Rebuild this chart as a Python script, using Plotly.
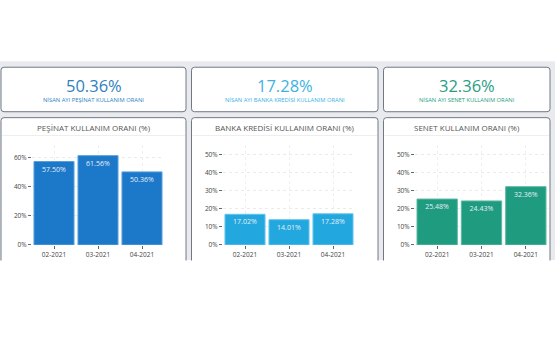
import plotly.graph_objects as go

W, H = 555, 355

months = ["02-2021", "03-2021", "04-2021"]
pesinat = [57.50, 61.56, 50.36]
banka = [17.02, 14.01, 17.28]
senet = [25.48, 24.43, 32.36]

kpi_values = ["50.36%", "17.28%", "32.36%"]
kpi_labels = ["NİSAN AYI PEŞİNAT KULLANIM ORANI",
              "NİSAN AYI BANKA KREDİSİ KULLANIM ORANI",
              "NİSAN AYI SENET KULLANIM ORANI"]
chart_titles = ["PEŞİNAT KULLANIM ORANI (%)",
                "BANKA KREDİSİ KULLANIM ORANI (%)",
                "SENET KULLANIM ORANI (%)"]
colors = ["#1c78c9", "#22a8df", "#1f9b80"]
line_colors = ["#5aa0dc", "#66c4ea", "#5cb9a3"]
kpi_colors = ["#2f7fc1", "#3cb2e2", "#2a9d84"]

FONT = "Open Sans"


def px(x):
    return x / W


def py(y):
    return 1 - y / H


def rounded(x0, y0, x1, y1, r=3):
    rx, ry = r / W, r / H
    X0, X1 = px(x0), px(x1)
    Y0, Y1 = py(y0), py(y1)
    return (f"M {X0+rx},{Y0} L {X1-rx},{Y0} Q {X1},{Y0} {X1},{Y0-ry} "
            f"L {X1},{Y1+ry} Q {X1},{Y1} {X1-rx},{Y1} "
            f"L {X0+rx},{Y1} Q {X0},{Y1} {X0},{Y1+ry} "
            f"L {X0},{Y0-ry} Q {X0},{Y0} {X0+rx},{Y0} Z")


fig = go.Figure()

series = [pesinat, banka, senet]
plot_x = [(32, 164), (223, 355), (415, 548)]
plot_y = (146.5, 247.7)
yranges = [[0, 69], [0, 55.6], [0, 55.6]]
ytickvals = [[0, 20, 40, 60], [0, 10, 20, 30, 40, 50], [0, 10, 20, 30, 40, 50]]

for i in range(3):
    ax = "" if i == 0 else str(i + 1)
    fig.add_trace(go.Bar(
        x=months, y=series[i],
        marker=dict(color=colors[i], line=dict(color=line_colors[i], width=1)),
        text=[f"{v:.2f}%" for v in series[i]],
        textposition="inside", insidetextanchor="end",
        textfont=dict(family=FONT, size=7, color="#e6eef8"),
        xaxis="x" + ax, yaxis="y" + ax, showlegend=False,
        hoverinfo="skip",
    ))
    x0, x1 = plot_x[i]
    fig.layout["xaxis" + ax] = dict(
        domain=[px(x0), px(x1)], anchor="y" + ax,
        showgrid=True, gridcolor="#efefef", griddash="dot", gridwidth=1,
        ticks="outside", ticklen=3, tickcolor="#666",
        tickfont=dict(family=FONT, size=6.5, color="#444"),
        showline=False, zeroline=False, fixedrange=True,
    )
    fig.layout["yaxis" + ax] = dict(
        domain=[py(plot_y[1]), py(plot_y[0])], anchor="x" + ax,
        range=yranges[i], tickvals=ytickvals[i],
        ticktext=[f"{v}%" for v in ytickvals[i]],
        showgrid=True, gridcolor="#ebebeb", griddash="dot", gridwidth=1,
        ticks="outside", ticklen=3, tickcolor="#666",
        tickfont=dict(family=FONT, size=6.5, color="#444"),
        showline=False, zeroline=False, fixedrange=True,
    )

shapes = []
shapes.append(dict(type="rect", xref="paper", yref="paper",
                   x0=0, x1=1, y0=py(263), y1=py(62),
                   fillcolor="#e9eaee", line=dict(width=0), layer="below"))
cards_x = [(1, 186), (191.5, 378), (383.5, 550)]
for (cx0, cx1) in cards_x:
    shapes.append(dict(type="path", xref="paper", yref="paper",
                       path=rounded(cx0, 68, cx1, 113),
                       fillcolor="white", line=dict(color="#707885", width=1),
                       layer="below"))
    shapes.append(dict(type="path", xref="paper", yref="paper",
                       path=rounded(cx0, 119, cx1, 275),
                       fillcolor="white", line=dict(color="#707885", width=1),
                       layer="below"))
    shapes.append(dict(type="line", xref="paper", yref="paper",
                       x0=px(cx0 + 1), x1=px(cx1 - 1), y0=py(137), y1=py(137),
                       line=dict(color="#eeeeee", width=1), layer="below"))
shapes.append(dict(type="rect", xref="paper", yref="paper",
                   x0=0, x1=1, y0=0, y1=py(263.5),
                   fillcolor="white", line=dict(width=0), layer="below"))

annotations = []
for i, (cx0, cx1) in enumerate(cards_x):
    cx = px((cx0 + cx1) / 2)
    annotations.append(dict(x=cx, y=py(86), xref="paper", yref="paper",
                            text=kpi_values[i], showarrow=False,
                            font=dict(family=FONT, size=16.5, color=kpi_colors[i]),
                            xanchor="center", yanchor="middle"))
    annotations.append(dict(x=cx, y=py(101), xref="paper", yref="paper",
                            text=kpi_labels[i], showarrow=False,
                            font=dict(family=FONT, size=5.8, color=kpi_colors[i]),
                            xanchor="center", yanchor="middle"))
    annotations.append(dict(x=cx, y=py(128.5), xref="paper", yref="paper",
                            text=chart_titles[i], showarrow=False,
                            font=dict(family=FONT, size=8, color="#555"),
                            xanchor="center", yanchor="middle"))

fig.update_layout(
    width=W, height=H, margin=dict(l=0, r=0, t=0, b=0),
    paper_bgcolor="white", plot_bgcolor="rgba(0,0,0,0)",
    bargap=0.09, shapes=shapes, annotations=annotations,
    font=dict(family=FONT),
)

fig.write_html("out.html", config={"displayModeBar": False},
               post_script="document.body.style.margin='0';document.body.style.padding='0';")
